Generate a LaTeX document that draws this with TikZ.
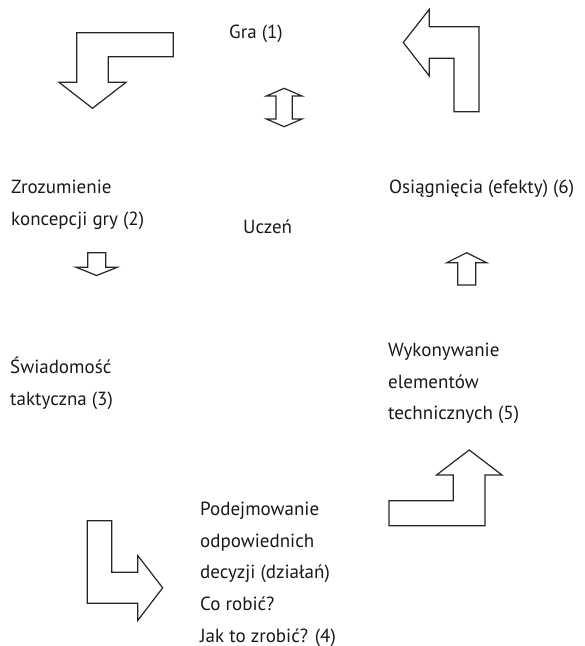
\documentclass[tikz,border=0pt]{standalone}
\usepackage{fontspec}
\setmainfont{PT Sans}
\begin{document}
\begin{tikzpicture}[x=1pt,y=-1pt,
  label/.style={anchor=north west,inner sep=0pt,align=left,text=black!90,
    font=\fontsize{19}{31.6}\selectfont},
  blockarrow/.style={draw=black!85,line width=1.2pt,line join=miter,fill=white}]
\useasboundingbox (0,0) rectangle (585,646);

% text blocks (placed by the top of their first line)
\node[label] (gra) at (229,25) {Gra (1)};
\node[label] (uczen) at (243,220) {Uczeń};
\node[label] (zroz) at (11,180) {Zrozumienie\\koncepcji gry (2)};
\node[label] (osiag) at (389,180) {Osiągnięcia (efekty) (6)};
\node[label] (swiad) at (10,357) {Świadomość\\taktyczna (3)};
\node[label] (wyk) at (388,343) {Wykonywanie\\elementów\\technicznych (5)};
\node[label] (podej) at (200,502) {Podejmowanie\\odpowiednich\\decyzji (działań)\\Co robić?\\Jak to zrobić? (4)};

% bent arrow: right-to-left, then down
\draw[blockarrow] (76.7,32.7) -- (173.3,32.7) -- (173.3,56.7) -- (108.3,56.7)
  -- (108.3,82.3) -- (126,82.3) -- (92.5,108.3) -- (59,82.3) -- (76.7,82.3) -- cycle;

% bent arrow: up, then left
\draw[blockarrow] (479,26.7) -- (479,111.7) -- (454,111.7) -- (454,58.3)
  -- (429.3,58.3) -- (429.3,76) -- (403.3,42.5) -- (429.3,9.3) -- (429.3,26.7) -- cycle;

% double-headed vertical arrow
\draw[blockarrow] (284.2,88.3) -- (302,96) -- (292.3,96) -- (292.3,119) -- (302,119)
  -- (284.2,126.7) -- (266.4,119) -- (276,119) -- (276,96) -- (266.4,96) -- cycle;

% small down arrow
\draw[blockarrow] (87.7,252.7) -- (105.7,252.7) -- (105.7,267.3) -- (117.2,267.3)
  -- (96.7,275.5) -- (76.2,267.3) -- (87.7,267.3) -- cycle;

% small up arrow
\draw[blockarrow] (457.7,285) -- (475.7,285) -- (475.7,262.7) -- (486.7,262.7)
  -- (466.7,252.7) -- (446.7,262.7) -- (457.7,262.7) -- cycle;

% bent arrow: down, then right
\draw[blockarrow] (87.3,520.7) -- (111.7,520.7) -- (111.7,572.3) -- (137.7,572.3)
  -- (137.7,555.5) -- (162.7,587.8) -- (137.7,620.5) -- (137.7,603.3) -- (87.3,603.3) -- cycle;

% bent arrow: right, then up
\draw[blockarrow] (389,500.7) -- (453.3,500.7) -- (453.3,475) -- (436.5,475)
  -- (469.2,450) -- (502,475) -- (485,475) -- (485,525.7) -- (389,525.7) -- cycle;
\end{tikzpicture}
\end{document}
